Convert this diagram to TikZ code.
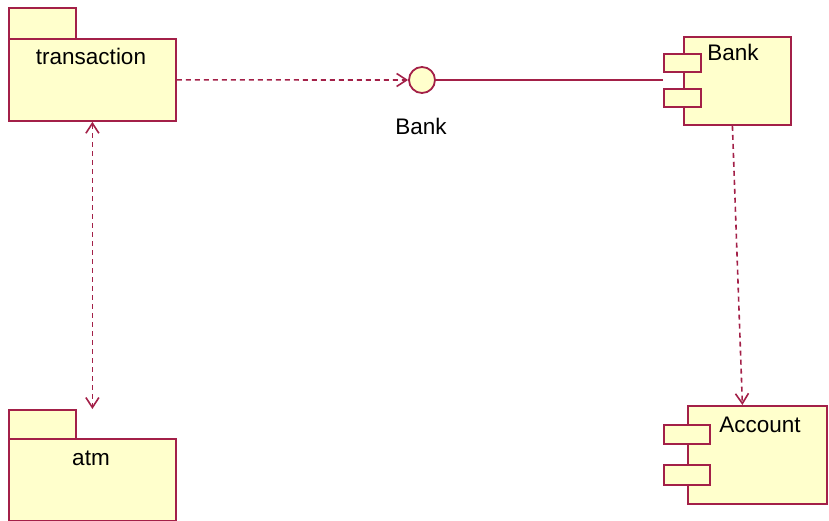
\documentclass[tikz,border=0pt]{standalone}
\usepackage{fontspec}
\setmainfont{Liberation Sans}
\usetikzlibrary{calc,arrows.meta}
\definecolor{umlred}{RGB}{163,32,72}
\definecolor{umlfill}{RGB}{255,255,204}

\tikzset{
  umlbox/.style={draw=umlred,fill=umlfill,line width=1.8pt,inner sep=0pt,anchor=north west},
  umltext/.style={inner sep=0pt,font=\fontsize{22.5}{26}\selectfont},
  dep/.style={draw=umlred,line width=1.6pt,dash pattern=on 5pt off 4pt,-{Straight Barb[length=10pt,width=13pt,line width=1.6pt]}},
  depboth/.style={dep,{Straight Barb[length=10pt,width=13pt,line width=1.6pt]}-{Straight Barb[length=10pt,width=13pt,line width=1.6pt]}},
  wire/.style={draw=umlred,line width=1.8pt}
}

\begin{document}
\begin{tikzpicture}[x=1pt,y=-1pt]
\useasboundingbox (0,0) rectangle (829,521);

% packages
\node[umlbox,minimum width=67pt,minimum height=31pt](transactiontab) at (8,7){};
\node[umlbox,minimum width=167pt,minimum height=82pt](transaction) at (8,38){};
\node[umltext](transactionlbl) at (91,56){transaction};

\node[umlbox,minimum width=67pt,minimum height=29pt](atmtab) at (8,409){};
\node[umlbox,minimum width=167pt,minimum height=82pt](atm) at (8,438){};
\node[umltext](atmlbl) at (91,458){atm};

% interface
\node[circle,draw=umlred,fill=umlfill,line width=1.8pt,minimum size=26pt,inner sep=0pt](bankif) at (422,80){};
\node[umltext](bankiflbl) at (421,126){Bank};

% components
\node[umlbox,minimum width=107pt,minimum height=88pt](bank) at (683,36){};
\node[umlbox,minimum width=37pt,minimum height=18pt](bankporta) at (663,53){};
\node[umlbox,minimum width=37pt,minimum height=18pt](bankportb) at (663,88){};
\node[umltext](banklbl) at (733,52){Bank};

\node[umlbox,minimum width=139pt,minimum height=98pt](account) at (687,405){};
\node[umlbox,minimum width=46pt,minimum height=19pt](accountporta) at (663,424){};
\node[umlbox,minimum width=46pt,minimum height=20pt](accountportb) at (663,464){};
\node[umltext](accountlbl) at (760,425){Account};

% connectors
\draw[dep](transaction.east)--(bankif.west);
\draw[wire](bankif.east)--(bankif.east -| bankporta.west);
\draw[depboth](transaction.south)--(transaction.south |- atmtab.north);
\draw[dep]($(bank.south)+(-5,0)$)--($(account.north)+(-15,0)$);
\end{tikzpicture}
\end{document}
